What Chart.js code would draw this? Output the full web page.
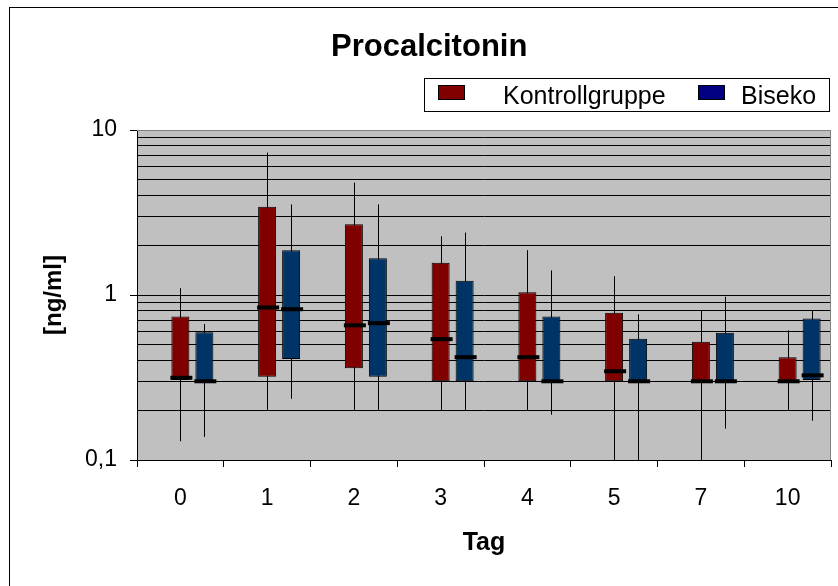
<!DOCTYPE html>
<html>
<head>
<meta charset="utf-8">
<script src="https://cdn.jsdelivr.net/npm/chart.js@4.4.1/dist/chart.umd.min.js"></script>
<style>
    body { margin: 0; background: #fff; font-family: "Liberation Sans", Arial, sans-serif; }
    #wrap { position: relative; width: 838px; height: 586px; overflow: hidden; }
    #frame { position: absolute; left: 9px; top: 7px; width: 840px; height: 600px; border: 1px solid #000; box-sizing: border-box; pointer-events: none; }
    #title { position: absolute; left: 331px; top: 30px; font-weight: bold; font-size: 31px; line-height: 31px; color: #000; white-space: nowrap; }
    #legend { position: absolute; left: 424px; top: 78px; width: 406px; height: 34px; border: 1px solid #000; box-sizing: border-box; background: #fff; }
    .swatch { position: absolute; top: 6px; width: 27px; height: 15px; border: 1px solid #000; box-sizing: border-box; }
    .label { position: absolute; top: 4px; font-size: 25px; line-height: 25px; color: #000; white-space: nowrap; }
</style>
</head>
<body>
<div id="wrap">
    <canvas id="boxChart"></canvas>
    <div id="frame"></div>
    <div id="title">Procalcitonin</div>
    <div id="legend">
        <div class="swatch" style="left: 13px; background: #800000;"></div>
        <div class="label" style="left: 78px;">Kontrollgruppe</div>
        <div class="swatch" style="left: 273px; background: #000080;"></div>
        <div class="label" style="left: 316px;">Biseko</div>
    </div>
</div>
<script>
const days = ['0', '1', '2', '3', '4', '5', '7', '10'];

// Kontrollgruppe: min, Q1, median, Q3, max (ng/ml)
const kontrollMin = [0.13, 0.2, 0.2, 0.2, 0.2, 0.1, 0.1, 0.2];
const kontrollQ1 = [0.305, 0.32, 0.36, 0.3, 0.3, 0.3, 0.3, 0.3];
const kontrollMedian = [0.315, 0.84, 0.655, 0.54, 0.42, 0.345, 0.3, 0.3];
const kontrollQ3 = [0.74, 3.43, 2.68, 1.57, 1.04, 0.78, 0.52, 0.42];
const kontrollMax = [1.1, 7.3, 4.8, 2.27, 1.87, 1.3, 0.8, 0.61];

// Biseko
const bisekoMin = [0.138, 0.235, 0.2, 0.2, 0.188, 0.1, 0.155, 0.173];
const bisekoQ1 = [0.298, 0.41, 0.32, 0.3, 0.3, 0.3, 0.3, 0.305];
const bisekoMedian = [0.3, 0.82, 0.675, 0.42, 0.3, 0.3, 0.3, 0.326];
const bisekoQ3 = [0.594, 1.87, 1.67, 1.22, 0.74, 0.544, 0.59, 0.72];
const bisekoMax = [0.667, 3.54, 3.54, 2.39, 1.41, 0.764, 0.977, 0.8];

const yTickValues = [0.1, 0.2, 0.3, 0.4, 0.5, 0.6, 0.7, 0.8, 0.9, 1, 2, 3, 4, 5, 6, 7, 8, 9, 10];
const yLabelValues = [0.1, 1, 10];
const yLabelTexts = ['0,1', '1', '10'];

const boxStats = [
    { min: kontrollMin, median: kontrollMedian, max: kontrollMax },
    { min: bisekoMin, median: bisekoMedian, max: bisekoMax }
];

// plot background, grey frame, whiskers and medians
const boxPlotPlugin = {
    id: 'boxPlot',
    beforeDraw(chart) {
        const a = chart.chartArea;
        const ctx = chart.ctx;
        ctx.save();
        ctx.fillStyle = '#c0c0c0';
        ctx.fillRect(a.left, a.top, a.right - a.left, a.bottom - a.top);
        ctx.restore();
    },
    beforeDatasetsDraw(chart) {
        const a = chart.chartArea;
        const ctx = chart.ctx;
        const y = chart.scales.y;
        ctx.save();
        ctx.strokeStyle = '#808080';
        ctx.lineWidth = 1;
        ctx.beginPath();
        ctx.moveTo(a.left, a.top + 0.5);
        ctx.lineTo(a.right - 0.5, a.top + 0.5);
        ctx.lineTo(a.right - 0.5, a.bottom);
        ctx.stroke();

        ctx.strokeStyle = '#000';
        boxStats.forEach((s, k) => {
            const meta = chart.getDatasetMeta(k + 1);
            meta.data.forEach((bar, i) => {
                const x = Math.round(bar.x) + 0.5;
                ctx.beginPath();
                ctx.moveTo(x, y.getPixelForValue(s.min[i]));
                ctx.lineTo(x, y.getPixelForValue(s.max[i]));
                ctx.stroke();
            });
        });
        ctx.restore();
    },
    afterDatasetsDraw(chart) {
        const ctx = chart.ctx;
        const y = chart.scales.y;
        ctx.save();
        ctx.strokeStyle = '#000';
        ctx.lineWidth = 4;
        boxStats.forEach((s, k) => {
            const meta = chart.getDatasetMeta(k + 1);
            meta.data.forEach((bar, i) => {
                const half = bar.width / 2;
                const py = y.getPixelForValue(s.median[i]);
                ctx.beginPath();
                ctx.moveTo(bar.x - half - 1, py);
                ctx.lineTo(bar.x + half + 3, py);
                ctx.stroke();
            });
        });
        ctx.restore();
    }
};

const ctx = document.getElementById('boxChart').getContext('2d');
new Chart(ctx, {
    type: 'bar',
    data: {
        labels: days,
        datasets: [
            {
                // empty slot so the red box sits on the category centre
                label: '',
                data: days.map(() => null),
                backgroundColor: 'rgba(0,0,0,0)'
            },
            {
                label: 'Kontrollgruppe',
                data: kontrollQ1.map((q1, i) => [q1, kontrollQ3[i]]),
                backgroundColor: '#800000',
                borderColor: '#000',
                borderWidth: 1,
                borderSkipped: false
            },
            {
                label: 'Biseko',
                data: bisekoQ1.map((q1, i) => [q1, bisekoQ3[i]]),
                backgroundColor: '#003366',
                borderColor: '#000',
                borderWidth: 1,
                borderSkipped: false
            }
        ]
    },
    options: {
        responsive: true,
        maintainAspectRatio: false,
        animation: false,
        categoryPercentage: 0.83,
        barPercentage: 0.75,
        layout: { padding: { top: 130, right: 7, bottom: 0, left: 0 } },
        plugins: {
            legend: { display: false },
            title: { display: false },
            tooltip: { enabled: false }
        },
        scales: {
            x: {
                afterFit: function (scale) { scale.height = 126; },
                grid: {
                    offset: true,
                    drawOnChartArea: false,
                    tickLength: 7,
                    color: '#000'
                },
                border: { color: '#000' },
                ticks: {
                    color: '#000',
                    padding: 18,
                    font: { family: 'Liberation Sans', size: 23 }
                },
                title: {
                    display: true,
                    text: 'Tag',
                    color: '#000',
                    font: { family: 'Liberation Sans', size: 25, weight: 'bold' },
                    padding: { top: 0, bottom: 28 }
                }
            },
            y: {
                type: 'logarithmic',
                min: 0.1,
                max: 10,
                afterFit: function (scale) { scale.width = 137; },
                afterBuildTicks: function (scale) {
                    scale.ticks = yTickValues.map(v => ({ value: v }));
                },
                grid: {
                    tickLength: 7,
                    color: c => (c.tick && c.tick.value === 10 ? '#808080' : '#000'),
                    tickColor: c => (c.tick && yLabelValues.includes(c.tick.value) ? '#000' : 'rgba(0,0,0,0)')
                },
                border: { color: '#000' },
                ticks: {
                    autoSkip: false,
                    color: '#000',
                    padding: 13,
                    font: { family: 'Liberation Sans', size: 23 },
                    callback: function (value) {
                        const i = yLabelValues.indexOf(value);
                        return i >= 0 ? yLabelTexts[i] : '';
                    }
                },
                title: {
                    display: true,
                    text: '[ng/ml]',
                    color: '#000',
                    font: { family: 'Liberation Sans', size: 24, weight: 'bold' },
                    padding: { top: 40, bottom: 0 }
                }
            }
        }
    },
    plugins: [boxPlotPlugin]
});
</script>
</body>
</html>
